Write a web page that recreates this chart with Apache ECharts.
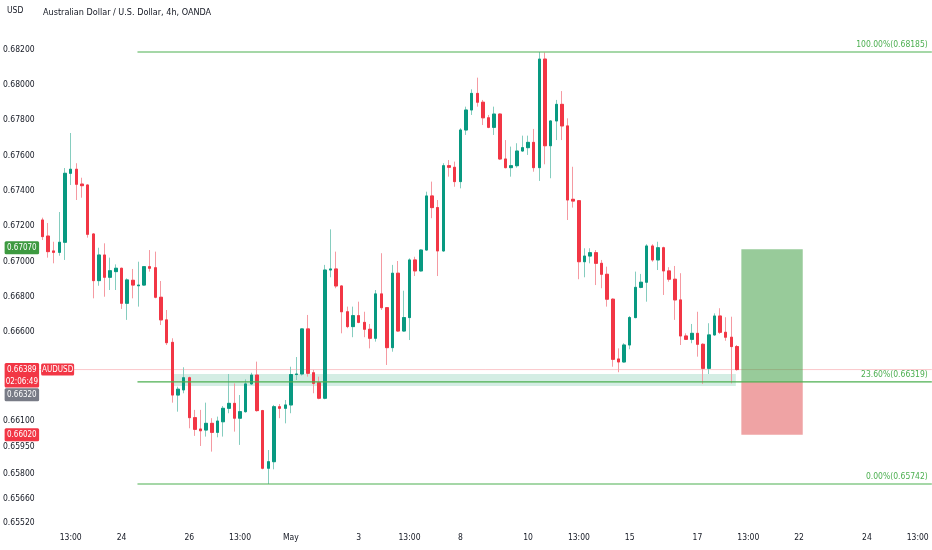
<!DOCTYPE html>
<html>
<head>
<meta charset="utf-8">
<script src="https://cdn.jsdelivr.net/npm/echarts@6/dist/echarts.min.js"></script>
<style>
  html, body { margin: 0; padding: 0; background: #ffffff; }
  #chart { width: 932px; height: 550px; }
</style>
</head>
<body>
<div id="chart"></div>
<script>
// ---------- DATA ----------
const openP = [0.67235,0.67144,0.67060,0.67052,0.67109,0.67499,0.67522,0.67438,0.67433,0.67156,
0.66892,0.67037,0.66911,0.66943,0.66962,0.66764,0.66894,0.66863,0.66867,0.66971,
0.66965,0.66798,0.66670,0.66543,0.66245,0.66274,0.66343,0.66117,0.66053,0.66047,
0.66085,0.66034,0.66094,0.66170,0.66198,0.66114,0.66151,0.66308,0.66358,0.66157,
0.65831,0.65868,0.66179,0.66170,0.66189,0.66361,0.66364,0.66619,0.66371,0.66315,
0.66227,0.66952,0.66958,0.66862,0.66716,0.66632,0.66694,0.66656,0.66617,0.66566,
0.66817,0.66739,0.66513,0.66934,0.66607,0.66683,0.67009,0.66947,0.67065,0.67371,
0.67305,0.67060,0.67542,0.67533,0.67452,0.67744,0.67857,0.67951,0.67901,0.67813,
0.67759,0.67834,0.67580,0.67531,0.67542,0.67625,0.67644,0.67674,0.67531,0.68145,
0.67655,0.67795,0.67889,0.67767,0.67352,0.67344,0.66999,0.67031,0.67050,0.66990,
0.66928,0.66787,0.66449,0.66432,0.66528,0.66683,0.66854,0.66883,0.67088,0.67009,
0.67078,0.66947,0.66900,0.66783,0.66579,0.66560,0.66594,0.66532,0.66396,0.66585,
0.66692,0.66600,0.66572,0.66519];
const closeP = [0.67141,0.67056,0.67052,0.67109,0.67499,0.67522,0.67437,0.67429,0.67154,0.66892,
0.67037,0.66911,0.66948,0.66962,0.66764,0.66896,0.66867,0.66867,0.66971,0.66962,
0.66798,0.66670,0.66541,0.66245,0.66278,0.66343,0.66117,0.66051,0.66043,0.66085,
0.66034,0.66098,0.66170,0.66198,0.66114,0.66151,0.66308,0.66358,0.66157,0.65831,
0.65868,0.66179,0.66170,0.66189,0.66361,0.66364,0.66619,0.66368,0.66311,0.66227,
0.66952,0.66958,0.66862,0.66716,0.66632,0.66694,0.66656,0.66617,0.66566,0.66817,
0.66739,0.66513,0.66934,0.66607,0.66683,0.67009,0.66947,0.67065,0.67371,0.67305,
0.67060,0.67542,0.67533,0.67452,0.67744,0.67857,0.67951,0.67901,0.67813,0.67759,
0.67834,0.67580,0.67531,0.67542,0.67625,0.67644,0.67674,0.67531,0.68145,0.67655,
0.67795,0.67889,0.67767,0.67348,0.67342,0.66999,0.67031,0.67050,0.66990,0.66928,
0.66787,0.66447,0.66432,0.66528,0.66683,0.66854,0.66883,0.67088,0.67009,0.67078,
0.66947,0.66900,0.66783,0.66579,0.66560,0.66594,0.66532,0.66396,0.66585,0.66692,
0.66600,0.66572,0.66519,0.66389];
const lowP = [0.67122,0.67022,0.66990,0.67033,0.67009,0.67433,0.67348,0.67361,0.67135,0.66792,
0.66863,0.66801,0.66839,0.66839,0.66732,0.66670,0.66792,0.66745,0.66863,0.66943,
0.66792,0.66641,0.66528,0.66202,0.66151,0.66255,0.66057,0.66014,0.65957,0.66010,
0.65925,0.66006,0.66010,0.66142,0.66038,0.65963,0.66145,0.66302,0.66151,0.65825,
0.65742,0.65825,0.66114,0.66085,0.66142,0.66330,0.66355,0.66349,0.66255,0.66221,
0.66221,0.66911,0.66849,0.66594,0.66623,0.66572,0.66651,0.66572,0.66509,0.66547,
0.66726,0.66415,0.66490,0.66603,0.66603,0.66556,0.66918,0.66943,0.67062,0.67245,
0.66918,0.67055,0.67480,0.67423,0.67414,0.67716,0.67829,0.67876,0.67772,0.67754,
0.67716,0.67574,0.67527,0.67480,0.67531,0.67621,0.67603,0.67508,0.67456,0.67550,
0.67471,0.67687,0.67687,0.67235,0.67305,0.66900,0.66911,0.66990,0.66867,0.66849,
0.66745,0.66405,0.66374,0.66428,0.66504,0.66679,0.66849,0.66773,0.66999,0.66952,
0.66811,0.66886,0.66670,0.66528,0.66556,0.66538,0.66462,0.66308,0.66364,0.66579,
0.66590,0.66552,0.66311,0.66383];
const highP = [0.67248,0.67218,0.67112,0.67280,0.67529,0.67727,0.67556,0.67474,0.67437,0.67160,
0.67078,0.67103,0.67022,0.66984,0.66965,0.66905,0.66958,0.66999,0.66973,0.67065,
0.67056,0.66890,0.66726,0.66566,0.66292,0.66402,0.66349,0.66161,0.66161,0.66202,
0.66114,0.66123,0.66183,0.66364,0.66311,0.66245,0.66334,0.66371,0.66434,0.66161,
0.65934,0.66189,0.66194,0.66217,0.66405,0.66460,0.66622,0.66698,0.66387,0.66349,
0.66981,0.67182,0.67056,0.66865,0.66745,0.66745,0.66773,0.66716,0.66647,0.66839,
0.67047,0.66742,0.66981,0.67003,0.66835,0.67018,0.67027,0.67069,0.67395,0.67452,
0.67348,0.67556,0.67574,0.67565,0.67754,0.67876,0.67974,0.68040,0.67914,0.67829,
0.67876,0.67838,0.67687,0.67650,0.67669,0.67712,0.67712,0.67750,0.68185,0.68182,
0.67800,0.67914,0.67964,0.67810,0.67536,0.67348,0.67075,0.67075,0.67065,0.67009,
0.66971,0.66792,0.66509,0.66538,0.66692,0.66943,0.66930,0.67098,0.67098,0.67112,
0.67084,0.66968,0.66975,0.66934,0.66594,0.66647,0.66716,0.66538,0.66651,0.66707,
0.66736,0.66685,0.66688,0.66528];

// time-scale slots (4h bars incl. future empty space) and their tick labels
const slotCount = 158;
const timeTickIndex = [5, 14, 26, 35, 44, 56, 65, 74, 86, 95, 104, 116, 125, 134, 146, 155];
const timeTickText  = ['13:00','24','26','13:00','May','3','13:00','8','10','13:00','15','17','13:00','22','24','13:00'];

// price scale labels shown on the left axis
const priceTicks = ['0.68200','0.68000','0.67800','0.67600','0.67400','0.67200','0.67000',
  '0.66800','0.66600','0.66100','0.65950','0.65800','0.65660','0.65520'];

// fibonacci retracement levels
const fibLevels = [0.68185, 0.66319, 0.65742];
const fibTexts  = ['100.00%(0.68185)', '23.60%(0.66319)', '0.00%(0.65742)'];
const fibSpan   = [16.83, 157.5];

// support zone rectangle [fromSlot, toSlot, lowPrice, highPrice]
const zoneBox = [23.24, 122.8, 0.66296, 0.66364];

// long position tool [fromSlot, toSlot], entry / target / stop
const positionSpan = [123.77, 134.64];
const positionPrices = [0.66320, 0.67070, 0.66020];

// last price line
const lastPrice = 0.66389;
const symbolName = 'AUDUSD';

// price-scale badges
const badgePrices = [0.67070, 0.66389, 0.66320, 0.66020];
const badgeTexts  = ['0.67070', '0.66389\n02:06:49', '0.66320', '0.66020'];

// ---------- STYLE / LAYOUT ----------
const FONT = '"Liberation Sans Narrow","DejaVu Sans Condensed","Liberation Sans",Arial,sans-serif';
const badgeColors = ['#3d9a40', '#f23645', '#787b86', '#f23645'];
const badgeShift  = [-1.5, 0, 13, 0];
const UP = '#089981', DOWN = '#f23645';
const FIB = '#4caf50';
const LBL = 8.5;

const categories = Array.from({ length: slotCount }, (_, i) => String(i));
const tickMap = {};
timeTickIndex.forEach((k, i) => { tickMap[k] = timeTickText[i]; });

const wickData = openP.map((o, i) => [o, closeP[i], lowP[i], highP[i]]);
const bodyData = openP.map((o, i) => [o, closeP[i], Math.min(o, closeP[i]), Math.max(o, closeP[i])]);

const chart = echarts.init(document.getElementById('chart'), null, { renderer: 'canvas' });

const option = {
  animation: false,
  backgroundColor: '#ffffff',
  title: [
    { text: 'Australian Dollar / U.S. Dollar, 4h, OANDA', left: 43, top: 8, padding: 0,
      textStyle: { fontFamily: FONT, fontSize: 9, fontWeight: 500, color: '#131722' } },
    { text: 'USD', left: 7, top: 6, padding: 0,
      textStyle: { fontFamily: FONT, fontSize: 8.5, fontWeight: 'normal', color: '#131722' } }
  ],
  grid: { left: 38.5, right: 0, top: 24.6, bottom: 25, containLabel: false },
  xAxis: [
    {
      type: 'category', data: categories, boundaryGap: true,
      axisLine: { show: false }, axisTick: { show: false }, splitLine: { show: false },
      axisLabel: {
        interval: 0, margin: 8, color: '#131722', fontFamily: FONT, fontSize: LBL,
        formatter: (v, idx) => tickMap[idx] || ''
      }
    },
    { type: 'value', min: -0.5, max: slotCount - 0.5, show: false }
  ],
  yAxis: {
    type: 'value', position: 'left', min: 0.6551, max: 0.6834, interval: 0.00005, scale: true,
    axisLine: { show: false }, axisTick: { show: false }, splitLine: { show: false },
    axisLabel: {
      margin: 5, color: '#131722', fontFamily: FONT, fontSize: LBL,
      formatter: (v) => { const s = v.toFixed(5); return priceTicks.indexOf(s) >= 0 ? s : ''; }
    }
  },
  series: [
    // last price line
    {
      type: 'custom', xAxisIndex: 1, yAxisIndex: 0, silent: true, z: 1,
      data: [[-0.5, lastPrice, slotCount - 0.5]],
      renderItem: (params, api) => {
        const a = api.coord([api.value(0), api.value(1)]);
        const b = api.coord([api.value(2), api.value(1)]);
        return { type: 'line', shape: { x1: a[0], y1: a[1], x2: b[0], y2: b[1] },
          style: { stroke: 'rgba(242,54,69,0.28)', lineWidth: 1 } };
      }
    },
    // support zone
    {
      type: 'custom', xAxisIndex: 1, yAxisIndex: 0, silent: true, z: 1,
      data: [zoneBox],
      renderItem: (params, api) => {
        const a = api.coord([api.value(0), api.value(3)]);
        const b = api.coord([api.value(1), api.value(2)]);
        return { type: 'rect', shape: { x: a[0], y: a[1], width: b[0] - a[0], height: b[1] - a[1] },
          style: { fill: 'rgba(38,166,120,0.2)' } };
      }
    },
    // long position tool
    {
      type: 'custom', xAxisIndex: 1, yAxisIndex: 0, silent: true, z: 1,
      data: [[positionSpan[0], positionPrices[0], positionSpan[1], positionPrices[1], positionPrices[2]]],
      renderItem: (params, api) => {
        const e = api.coord([api.value(0), api.value(1)]);
        const t = api.coord([api.value(2), api.value(3)]);
        const s = api.coord([api.value(2), api.value(4)]);
        return { type: 'group', children: [
          { type: 'rect', shape: { x: e[0], y: t[1], width: t[0] - e[0], height: e[1] - t[1] },
            style: { fill: 'rgba(67,160,71,0.55)' } },
          { type: 'rect', shape: { x: e[0], y: e[1], width: s[0] - e[0], height: s[1] - e[1] },
            style: { fill: 'rgba(226,88,90,0.55)' } }
        ] };
      }
    },
    // wicks (full range, pale)
    {
      type: 'candlestick', xAxisIndex: 0, yAxisIndex: 0, z: 3, barWidth: 3,
      data: wickData,
      itemStyle: { color: '#86cdbf', color0: '#f59aa2', borderColor: '#86cdbf', borderColor0: '#f59aa2', borderWidth: 1 }
    },
    // bodies (solid)
    {
      type: 'candlestick', xAxisIndex: 0, yAxisIndex: 0, z: 4, barWidth: 3,
      data: bodyData,
      itemStyle: { color: UP, color0: DOWN, borderColor: UP, borderColor0: DOWN, borderWidth: 1 }
    },
    // fibonacci levels
    {
      type: 'custom', xAxisIndex: 1, yAxisIndex: 0, silent: true, z: 5,
      data: fibLevels.map((p) => [fibSpan[0], p, fibSpan[1]]),
      renderItem: (params, api) => {
        const a = api.coord([api.value(0), api.value(1)]);
        const b = api.coord([api.value(2), api.value(1)]);
        return { type: 'group', children: [
          { type: 'line', shape: { x1: a[0], y1: a[1], x2: b[0], y2: b[1] },
            style: { stroke: FIB, lineWidth: 1.2 } },
          { type: 'text', x: b[0] - 4, y: a[1] - 3,
            style: { text: fibTexts[params.dataIndex], fill: FIB, align: 'right', verticalAlign: 'bottom',
              font: LBL + 'px ' + FONT } }
        ] };
      }
    },
    // symbol badge on the last price line
    {
      type: 'custom', xAxisIndex: 1, yAxisIndex: 0, silent: true, z: 6, clip: false,
      data: [[-0.5, lastPrice]],
      renderItem: (params, api) => {
        const p = api.coord([api.value(0), api.value(1)]);
        return { type: 'group', children: [
          { type: 'rect', shape: { x: p[0] + 1.5, y: p[1] - 6, width: 33, height: 12, r: 1.5 },
            style: { fill: DOWN } },
          { type: 'text', x: p[0] + 18, y: p[1] + 0.5,
            style: { text: symbolName, fill: '#ffffff', align: 'center', verticalAlign: 'middle',
              font: '8px ' + FONT } }
        ] };
      }
    },
    // price-scale badges
    {
      type: 'custom', xAxisIndex: 1, yAxisIndex: 0, silent: true, z: 7, clip: false,
      data: badgePrices.map((p) => [-0.5, p]),
      renderItem: (params, api) => {
        const i = params.dataIndex;
        const p = api.coord([api.value(0), api.value(1)]);
        const y = p[1] + badgeShift[i];
        const left = params.coordSys.x;
        const lines = badgeTexts[i].split('\n').length;
        const h = 13 + (lines - 1) * 11.5;
        const top = y - 6.5;
        return { type: 'group', children: [
          { type: 'rect', shape: { x: left - 35, y: top, width: 34.5, height: h, r: 1.5 },
            style: { fill: badgeColors[i] } },
          { type: 'text', x: left - 17.8, y: top + h / 2 + 0.5,
            style: { text: badgeTexts[i], fill: '#ffffff', align: 'center', verticalAlign: 'middle',
              font: '8px ' + FONT, lineHeight: 11.5 } }
        ] };
      }
    }
  ]
};

chart.setOption(option);
</script>
</body>
</html>
